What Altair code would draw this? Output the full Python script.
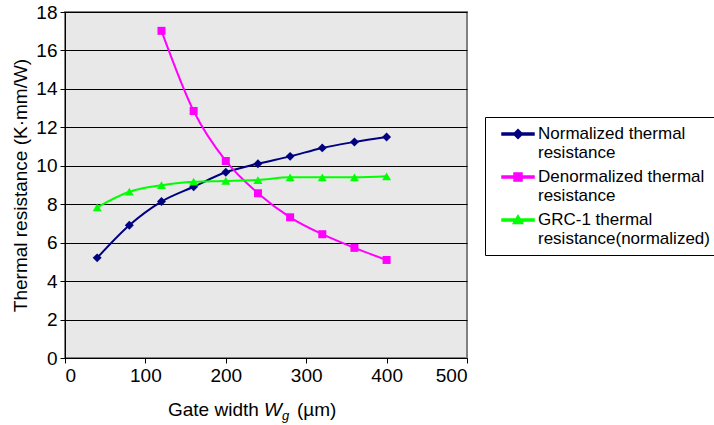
import altair as alt
import pandas as pd

# ---- data ----
x_norm = [40, 80, 120, 160, 200, 240, 280, 320, 360, 400]
normalized = [5.21, 6.91, 8.14, 8.91, 9.66, 10.11, 10.49, 10.93, 11.24, 11.50]
x_denorm = [120, 160, 200, 240, 280, 320, 360, 400]
denormalized = [17.02, 12.85, 10.25, 8.57, 7.32, 6.44, 5.73, 5.10]
x_grc = [40, 80, 120, 160, 200, 240, 280, 320, 360, 400]
grc1 = [7.84, 8.65, 8.99, 9.17, 9.21, 9.26, 9.40, 9.40, 9.40, 9.45]

series_names = [
    "Normalized thermal|resistance",
    "Denormalized thermal|resistance",
    "GRC-1 thermal|resistance(normalized)",
]
colors = ["#000080", "#ff00ff", "#00ff00"]
markers = ["diamond", "square", "triangle-up"]
marker_sizes = [80, 64, 80]
x_ticks = [0, 100, 200, 300, 400, 500]
y_ticks = [0, 2, 4, 6, 8, 10, 12, 14, 16, 18]

# legend symbols: a line segment with the series marker on it (unit = 8 px)
bar = "M-2,-0.13H2V0.13H-2Z "
legend_paths = [
    bar + "M0,-0.56L0.56,0L0,0.56L-0.56,0Z",
    bar + "M-0.5,-0.5H0.5V0.5H-0.5Z",
    bar + "M0,-0.56L0.6,0.45H-0.6Z",
]

rows = []
for xs, ys, name in [(x_norm, normalized, series_names[0]),
                     (x_denorm, denormalized, series_names[1]),
                     (x_grc, grc1, series_names[2])]:
    for xv, yv in zip(xs, ys):
        rows.append({"x": xv, "y": yv, "series": name})
df = pd.DataFrame(rows)

FONT = "Liberation Sans"

x_enc = alt.X("x:Q", scale=alt.Scale(domain=[0, 500], nice=False),
              axis=alt.Axis(values=x_ticks, title=None, grid=False, tickSize=5,
                            labelFontSize=19, labelPadding=3, labelColor="black",
                            labelOverlap=False,
                            domainColor="black", tickColor="black", format="d"))
y_enc = alt.Y("y:Q", scale=alt.Scale(domain=[0, 18], nice=False),
              axis=alt.Axis(values=y_ticks, title="Thermal resistance (K·mm/W)",
                            grid=True, gridColor="#000000", gridWidth=1,
                            tickSize=5, labelFontSize=19, labelPadding=3,
                            labelOverlap=False, tickCount=10,
                            labelColor="black", domainColor="black", tickColor="black",
                            titleFontSize=19, titleFontWeight="normal", titleColor="black",
                            titlePadding=5, format="d"))

legend = alt.Legend(orient="none", legendX=420, legendY=105, title=None,
                    strokeColor="black", fillColor="white", padding=8,
                    labelFontSize=17, labelColor="black", labelFont=FONT,
                    symbolSize=256, symbolOffset=16, labelOffset=11, rowPadding=7,
                    labelExpr="split(datum.label, '|')", labelLimit=400)

color_scale = alt.Scale(domain=series_names, range=colors)

base = alt.Chart(df)

lines = base.mark_line(interpolate="monotone", strokeWidth=2).encode(
    x=x_enc, y=y_enc,
    color=alt.Color("series:N", scale=color_scale, legend=legend),
)

point_layers = []
for name, shp, sz in zip(series_names, markers, marker_sizes):
    point_layers.append(
        base.transform_filter(alt.datum.series == name)
        .mark_point(shape=shp, size=sz, filled=True, opacity=1)
        .encode(x="x:Q", y="y:Q",
                color=alt.Color("series:N", scale=color_scale, legend=legend))
    )

legend_layer = base.transform_filter("false").mark_point(filled=True, size=256, opacity=1).encode(
    x="x:Q", y="y:Q",
    color=alt.Color("series:N", scale=color_scale, legend=legend),
    shape=alt.Shape("series:N", scale=alt.Scale(domain=series_names, range=legend_paths),
                    legend=legend),
)

# x-axis title with italic W and subscript g
t1 = alt.Chart(pd.DataFrame({"t": ["Gate width"]})).mark_text(
    align="left", baseline="alphabetic", fontSize=19, font=FONT, color="black").encode(
    text="t:N", x=alt.value(103), y=alt.value(404))
t2 = alt.Chart(pd.DataFrame({"t": ["W"]})).mark_text(
    align="left", baseline="alphabetic", fontSize=19, font=FONT, fontStyle="italic",
    color="black").encode(text="t:N", x=alt.value(199), y=alt.value(404))
t3 = alt.Chart(pd.DataFrame({"t": ["g"]})).mark_text(
    align="left", baseline="alphabetic", fontSize=13, font=FONT, fontStyle="italic",
    color="black").encode(text="t:N", x=alt.value(217), y=alt.value(408))
t4 = alt.Chart(pd.DataFrame({"t": ["(µm)"]})).mark_text(
    align="left", baseline="alphabetic", fontSize=19, font=FONT, color="black").encode(
    text="t:N", x=alt.value(232), y=alt.value(404))

chart = alt.layer(lines, *point_layers, legend_layer, t1, t2, t3, t4).properties(
    width=402, height=346,
    autosize=alt.AutoSizeParams(type="none"),
    padding={"left": 65, "top": 12, "right": 247, "bottom": 67},
).configure(font=FONT).configure_view(
    fill="#e8e8e8", stroke="#808080", strokeWidth=2
).configure_axis(labelFont=FONT, titleFont=FONT)

chart.save("out.html", embed_options={"renderer": "svg", "actions": False})
